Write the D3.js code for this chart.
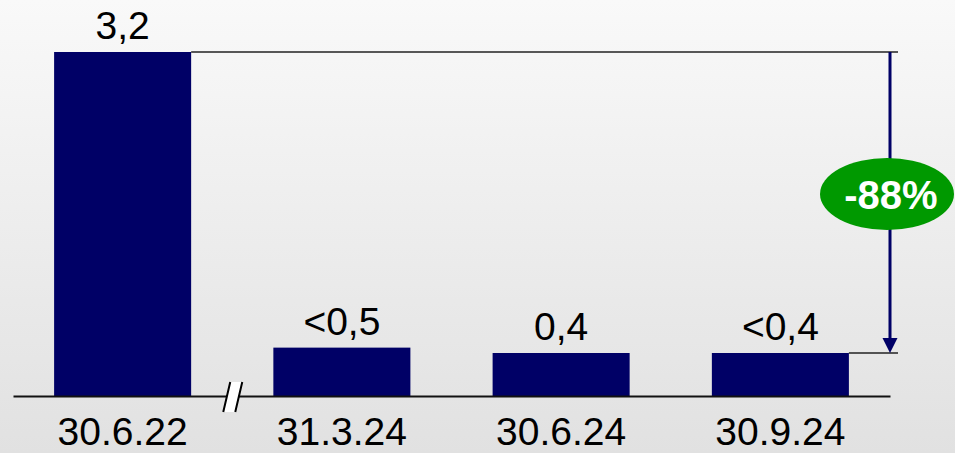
<!DOCTYPE html>
<html><head><meta charset="utf-8">
<script src="https://cdn.jsdelivr.net/npm/d3@7/dist/d3.min.js"></script>
<style>html,body{margin:0;padding:0;overflow:hidden;}svg{display:block;}</style>
</head><body>
<svg id="c" width="955" height="453"></svg>
<script>
const categories = ["30.6.22", "31.3.24", "30.6.24", "30.9.24"];
const values = [3.2, 0.45, 0.4, 0.4];
const valueLabels = ["3,2", "<0,5", "0,4", "<0,4"];
const changeLabel = "-88%";

const W = 955, H = 453;
const svg = d3.select("#c");
const defs = svg.append("defs");
const grad = defs.append("linearGradient").attr("id","bg").attr("x1",0).attr("y1",0).attr("x2",0).attr("y2",1);
grad.append("stop").attr("offset","0%").attr("stop-color","#f9f9f9");
grad.append("stop").attr("offset","100%").attr("stop-color","#e1e1e1");
svg.append("rect").attr("width",W).attr("height",H).attr("fill","url(#bg)");

const font = "'Liberation Sans', Arial, sans-serif";
const navy = "#000066";

const x = d3.scaleBand().domain(categories).range([13, 890]).paddingInner(0.375).paddingOuter(0.1875);
const y = d3.scaleLinear().domain([0, 3.2]).range([396, 52]);

// bars
svg.selectAll("rect.bar").data(values).enter().append("rect")
  .attr("class","bar")
  .attr("x",(d,i)=>x(categories[i]))
  .attr("y",d=>y(d))
  .attr("width",x.bandwidth())
  .attr("height",d=>y(0)-y(d))
  .attr("fill",navy);

// baseline axis
const axis = d3.axisBottom(x).tickSize(0).tickPadding(0);
const ag = svg.append("g").attr("transform",`translate(0,${y(0)})`).call(axis);
ag.select(".domain").attr("stroke","#111").attr("stroke-width",2);
ag.selectAll(".tick text").attr("font-family",font).attr("font-size",39).attr("fill","#000")
  .attr("dy",null).attr("y",49);

// value labels
svg.selectAll("text.val").data(values).enter().append("text")
  .attr("class","val")
  .attr("x",(d,i)=>x(categories[i])+x.bandwidth()/2)
  .attr("y",d=>y(d)-13)
  .attr("text-anchor","middle")
  .attr("font-family",font).attr("font-size",39).attr("fill","#000")
  .text((d,i)=>valueLabels[i]);

// axis break
const bx = (x(categories[0]) + x.bandwidth() + x(categories[1])) / 2;
svg.append("path")
  .attr("d",`M${bx-9},412 L${bx-2},382 L${bx+10},382 L${bx+3},412 Z`)
  .attr("fill","#fff");
svg.append("path").attr("d",`M${bx-9},412 L${bx-2},382 M${bx+3},412 L${bx+10},382`)
  .attr("stroke","#000").attr("stroke-width",2).attr("fill","none");

// reference lines
const ax = 890;
const last = values.length-1;
svg.append("line").attr("x1",x(categories[0])+x.bandwidth()).attr("x2",898)
  .attr("y1",y(values[0])).attr("y2",y(values[0])).attr("stroke","#222").attr("stroke-width",1.5);
svg.append("line").attr("x1",x(categories[last])+x.bandwidth()).attr("x2",898)
  .attr("y1",y(values[last])).attr("y2",y(values[last])).attr("stroke","#222").attr("stroke-width",1.5);

// arrow
svg.append("line").attr("x1",ax).attr("x2",ax).attr("y1",y(values[0])).attr("y2",y(values[last])-14)
  .attr("stroke",navy).attr("stroke-width",3);
svg.append("path")
  .attr("d",`M${ax-7.5},${y(values[last])-15} L${ax+7.5},${y(values[last])-15} L${ax},${y(values[last])} Z`)
  .attr("fill",navy);

// ellipse with change label
svg.append("ellipse").attr("cx",ax-3).attr("cy",194).attr("rx",67).attr("ry",36).attr("fill","#009900");
svg.append("text").attr("x",ax+1).attr("y",209).attr("text-anchor","middle")
  .attr("font-family",font).attr("font-size",40).attr("font-weight","bold").attr("fill","#fff")
  .text(changeLabel);
</script>
</body></html>
